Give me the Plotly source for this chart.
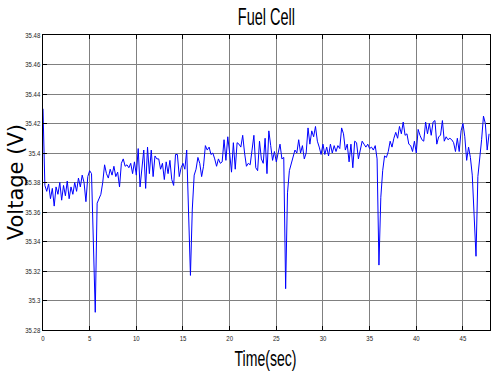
import numpy as np
import plotly.graph_objects as go

# ---- data ----
sample_period = 0.2  # seconds between samples
voltage = [
    35.430, 35.378, 35.374, 35.379, 35.369, 35.376, 35.364, 35.377, 35.372, 35.380,
    35.368, 35.378, 35.371, 35.381, 35.369, 35.377, 35.372, 35.380, 35.374, 35.383,
    35.377, 35.385, 35.380, 35.367, 35.384, 35.388, 35.386, 35.345, 35.292, 35.366,
    35.369, 35.372, 35.380, 35.392, 35.386, 35.383, 35.389, 35.385, 35.391, 35.384,
    35.387, 35.377, 35.393, 35.396, 35.391, 35.392, 35.390, 35.393, 35.386, 35.394,
    35.385, 35.403, 35.377, 35.389, 35.402, 35.376, 35.404, 35.386, 35.402, 35.384,
    35.398, 35.396, 35.396, 35.389, 35.393, 35.382, 35.394, 35.386, 35.395, 35.382,
    35.378, 35.399, 35.399, 35.384, 35.390, 35.393, 35.389, 35.402, 35.360, 35.317,
    35.362, 35.385, 35.389, 35.397, 35.393, 35.384, 35.391, 35.405, 35.402, 35.404,
    35.399, 35.400, 35.396, 35.391, 35.396, 35.393, 35.394, 35.409, 35.395, 35.411,
    35.400, 35.387, 35.407, 35.389, 35.407, 35.406, 35.404, 35.412, 35.400, 35.391,
    35.393, 35.392, 35.402, 35.412, 35.390, 35.388, 35.408, 35.396, 35.393, 35.410,
    35.386, 35.415, 35.405, 35.395, 35.401, 35.394, 35.400, 35.406, 35.396, 35.397,
    35.308, 35.373, 35.388, 35.393, 35.396, 35.402, 35.400, 35.409, 35.400, 35.405,
    35.396, 35.400, 35.417, 35.406, 35.415, 35.411, 35.418, 35.408, 35.404, 35.399,
    35.406, 35.399, 35.404, 35.398, 35.406, 35.400, 35.405, 35.401, 35.405, 35.403,
    35.417, 35.413, 35.402, 35.406, 35.394, 35.406, 35.390, 35.408, 35.407, 35.396,
    35.402, 35.408, 35.406, 35.404, 35.406, 35.403, 35.404, 35.402, 35.405, 35.396,
    35.324, 35.370, 35.388, 35.398, 35.397, 35.401, 35.408, 35.404, 35.410, 35.414,
    35.410, 35.418, 35.413, 35.421, 35.412, 35.413, 35.406, 35.405, 35.401, 35.408,
    35.400, 35.416, 35.412, 35.409, 35.408, 35.421, 35.413, 35.420, 35.412, 35.421,
    35.422, 35.406, 35.411, 35.412, 35.422, 35.408, 35.411, 35.409, 35.410, 35.409,
    35.407, 35.401, 35.410, 35.401, 35.415, 35.420, 35.411, 35.395, 35.404, 35.397,
    35.385, 35.362, 35.330, 35.384, 35.396, 35.409, 35.425, 35.420, 35.402, 35.413,
]
time = np.arange(len(voltage)) * sample_period

x_tick_vals = [0, 5, 10, 15, 20, 25, 30, 35, 40, 45]
x_tick_text = ["0", "5", "10", "15", "20", "25", "30", "35", "40", "45"]
y_tick_vals = [35.28, 35.30, 35.32, 35.34, 35.36, 35.38, 35.40, 35.42, 35.44, 35.46, 35.48]
y_tick_text = ["35.28", "35.3", "35.32", "35.34", "35.36", "35.38", "35.4",
               "35.42", "35.44", "35.46", "35.48"]

title_text = "Fuel Cell"
x_label = "Time(sec)"
y_label = "Voltage (V)"

# ---- figure ----
sans = "Liberation Sans, Arial, sans-serif"

fig = go.Figure()
fig.add_trace(go.Scatter(x=time, y=voltage, mode="lines",
                         line=dict(color="#0000ff", width=1), hoverinfo="skip"))

axis_common = dict(
    showline=True, linecolor="black", linewidth=1.3, mirror="ticks",
    ticks="inside", ticklen=4, tickcolor="black", tickwidth=1,
    showgrid=True, gridcolor="#808080", gridwidth=1, zeroline=False,
    tickfont=dict(family=sans, size=8, color="#222"),
)

fig.update_layout(
    width=491, height=377, autosize=False,
    margin=dict(l=43, r=1, t=35, b=47),
    paper_bgcolor="white", plot_bgcolor="white",
    showlegend=False,
    xaxis=dict(range=[0, 47.9], tickvals=x_tick_vals, ticktext=x_tick_text, **axis_common),
    yaxis=dict(range=[35.28, 35.48], tickvals=y_tick_vals, ticktext=y_tick_text, **axis_common),
    annotations=[
        dict(text=title_text, xref="paper", yref="paper", x=0.5, y=1.06,
             xanchor="center", yanchor="middle", showarrow=False,
             font=dict(family=sans, size=23, color="black")),
        dict(text=x_label, xref="paper", yref="paper", x=0.497, y=-0.098,
             xanchor="center", yanchor="middle", showarrow=False,
             font=dict(family=sans, size=22, color="black")),
        dict(text=y_label, xref="paper", yref="paper", x=-0.061, y=0.5,
             xanchor="center", yanchor="middle", showarrow=False, textangle=-90,
             font=dict(family="DejaVu Sans, sans-serif", size=21, color="black")),
    ],
)

# Condense horizontal text (the reference image is vertically stretched)
post_script = """
var gd = document.getElementById('{plot_id}');
function squish(el, s, origin) {
  el.style.transformBox = 'fill-box';
  el.style.transformOrigin = origin;
  el.style.transform = 'scaleX(' + s + ')';
}
function squishAttr(t, s) {
  var x = parseFloat(t.getAttribute('x')) || 0;
  var tr = t.getAttribute('transform') || '';
  t.setAttribute('transform', tr + ' translate(' + x + ',0) scale(' + s + ',1) translate(' + (-x) + ',0)');
}
var anns = gd.querySelectorAll('text.annotation-text');
if (anns.length >= 2) { squish(anns[0], 0.63, 'center'); squish(anns[1], 0.64, 'center'); }
gd.querySelectorAll('g.xtick text, g.ytick text').forEach(function(t){ squishAttr(t, 0.75); });
"""

fig.write_html("out.html", config={"displayModeBar": False}, post_script=post_script)
